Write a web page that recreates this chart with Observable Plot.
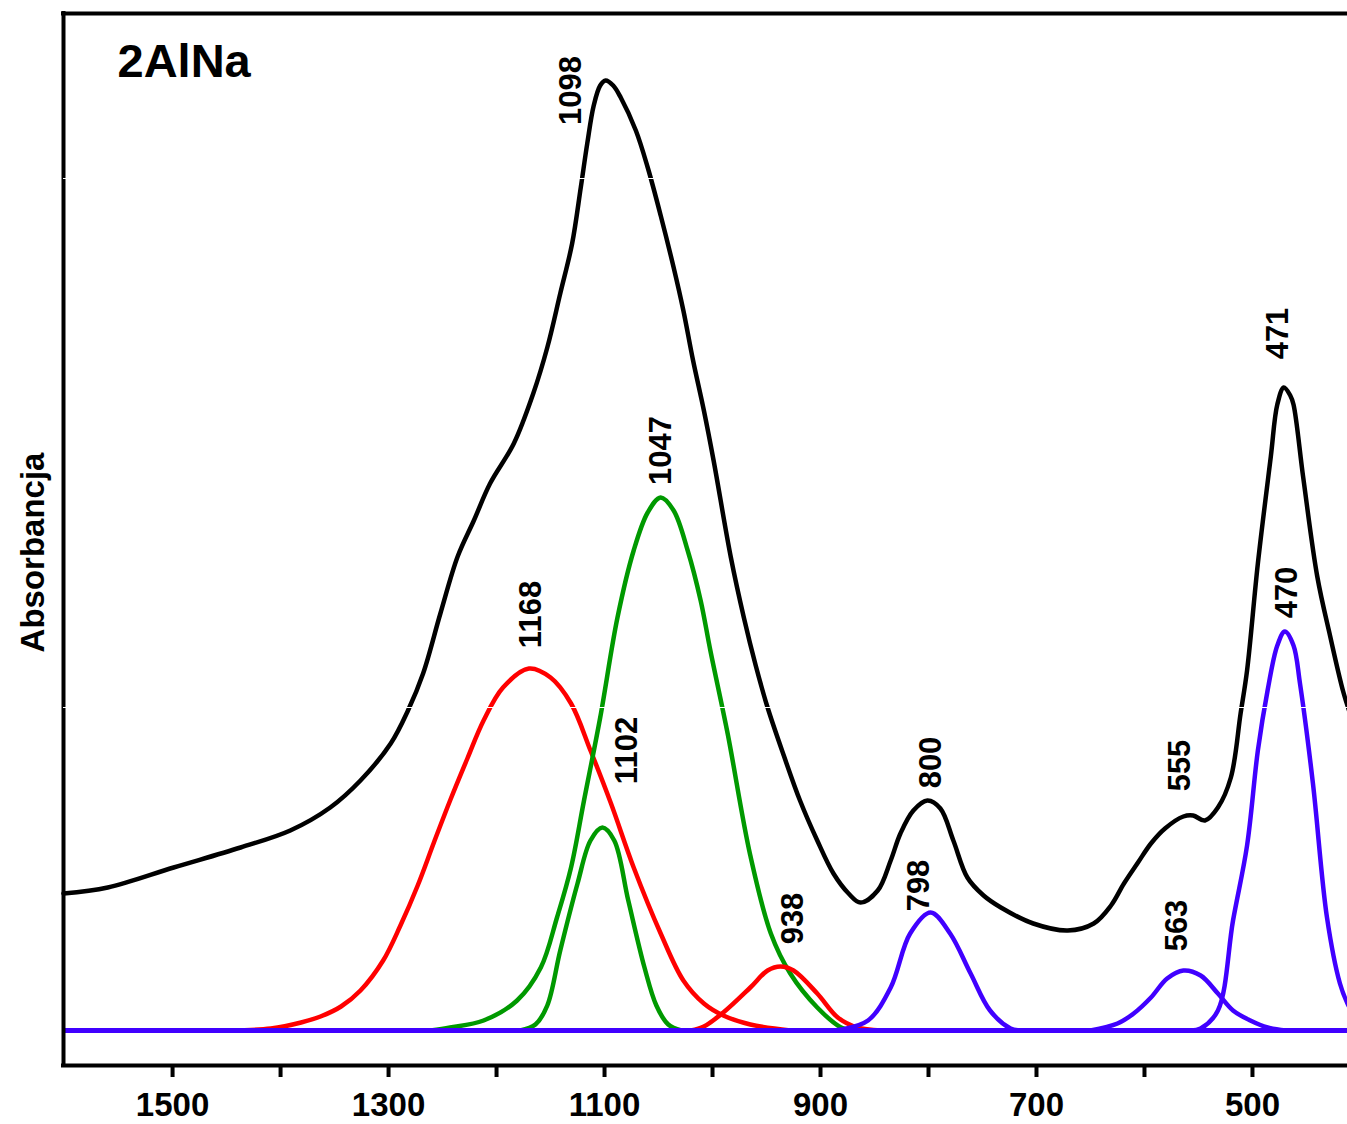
<!DOCTYPE html>
<html>
<head>
<meta charset="utf-8">
<script src="https://cdn.jsdelivr.net/npm/d3@7"></script>
<script src="https://cdn.jsdelivr.net/npm/@observablehq/plot@0.6"></script>
<style>
  html, body { margin: 0; padding: 0; background: #fff; }
  #chart svg { display: block; }
</style>
</head>
<body>
<div id="chart"></div>
<script>
// ---- data (wavenumber cm-1, absorbance in arbitrary units) ----
const title = "2AlNa";
const yTitle = "Absorbancja";
const xTicks = [1500, 1400, 1300, 1200, 1100, 1000, 900, 800, 700, 600, 500];
const xTickLabels = [1500, 1300, 1100, 900, 700, 500];
const hiddenYTicks = [0.852, 0.323];

const spectrum = [
  [1601,0.137],[1560,0.143],[1499,0.163],[1437,0.183],[1391,0.200],[1354,0.223],
  [1326,0.250],[1298,0.287],[1282,0.320],[1268,0.357],[1252,0.417],[1236,0.474],
  [1221,0.510],[1206,0.547],[1184,0.587],[1166,0.637],[1153,0.683],[1141,0.737],
  [1130,0.787],[1122,0.843],[1116,0.887],[1110,0.925],[1104,0.945],[1099,0.950],[1092,0.945],[1085,0.933],
  [1071,0.900],[1060,0.863],[1048,0.815],[1036,0.763],[1027,0.720],[1018,0.670],
  [1008,0.620],[999,0.570],[983,0.473],[971,0.413],[960,0.365],[949,0.323],
  [934,0.275],[919,0.230],[903,0.190],[888,0.157],[874,0.137],[863,0.128],
  [847,0.140],[835,0.170],[826,0.197],[814,0.220],[801,0.230],[789,0.222],
  [777,0.190],[764,0.153],[749,0.135],[733,0.123],[703,0.107],[671,0.100],
  [647,0.107],[631,0.125],[619,0.147],[606,0.168],[594,0.187],[581,0.202],
  [564,0.214],[555,0.215],[544,0.210],[532,0.223],[520,0.253],[511,0.317],
  [505,0.360],[495,0.467],[483,0.574],[477,0.626],[471,0.643],[465,0.635],[462,0.626],
  [453,0.553],[440,0.454],[428,0.394],[416,0.339],[409,0.315]
];
const band1168 = [
  [1446,0],[1409,0.002],[1381,0.008],[1363,0.014],[1344,0.024],[1326,0.040],
  [1305,0.070],[1289,0.105],[1273,0.145],[1258,0.188],[1243,0.230],[1227,0.272],
  [1212,0.310],[1194,0.343],[1170,0.362],[1150,0.353],
  [1131,0.327],[1113,0.280],[1094,0.227],[1073,0.163],[1048,0.097],[1027,0.050],
  [1008,0.027],[990,0.015],[965,0.006],[928,0]
];
const band938 = [
  [1020,0],[1008,0.004],[990,0.018],[965,0.043],[949,0.060],[937,0.064],
  [925,0.060],[903,0.037],[884,0.013],[866,0.003],[844,0]
];
const band1047 = [
  [1261,0],[1243,0.003],[1212,0.010],[1181,0.030],[1159,0.063],[1144,0.113],
  [1131,0.163],[1119,0.230],[1104,0.313],[1088,0.413],[1073,0.480],[1060,0.518],
  [1048,0.533],[1036,0.520],[1023,0.480],[1011,0.430],[1002,0.380],[986,0.297],
  [965,0.175],[946,0.097],[928,0.057],[903,0.023],[881,0.003],[872,0]
];
const band1102 = [
  [1178,0],[1164,0.006],[1153,0.025],[1141,0.080],[1125,0.147],[1113,0.190],
  [1102,0.203],[1091,0.190],[1078,0.130],[1063,0.063],[1052,0.025],[1041,0.006],[1029,0]
];
const band798 = [
  [891,0],[881,0.001],[856,0.010],[835,0.043],[817,0.097],[798,0.118],
  [780,0.097],[761,0.057],[743,0.020],[724,0.002],[715,0]
];
const band563 = [
  [650,0],[625,0.007],[610,0.017],[594,0.033],[579,0.052],[564,0.060],
  [548,0.055],[532,0.037],[518,0.020],[502,0.010],[486,0.003],[469,0]
];
const band470 = [
  [557,0],[548,0.002],[532,0.020],[518,0.110],[505,0.185],[495,0.280],
  [486,0.340],[477,0.385],[470,0.399],[462,0.385],[456,0.347],[444,0.247],
  [431,0.113],[419,0.047],[412,0.027],[400,0.005]
];
const peakLabels = [
  {text: "1098", wn: 1131, a: 0.940},
  {text: "1047", wn: 1048, a: 0.580},
  {text: "1168", wn: 1168, a: 0.416},
  {text: "1102", wn: 1079, a: 0.280},
  {text: "938",  wn: 925,  a: 0.112},
  {text: "800",  wn: 798,  a: 0.268},
  {text: "798",  wn: 809,  a: 0.145},
  {text: "555",  wn: 567,  a: 0.265},
  {text: "563",  wn: 570,  a: 0.105},
  {text: "471",  wn: 476,  a: 0.697},
  {text: "470",  wn: 468,  a: 0.438}
];

// ---- build tables ----
const toRows = arr => arr.map(([wn, a]) => ({wn, a}));
const xDomain = [1601, 412];
const yDomain = [-0.035, 1.017];
const RED = "#ff0000", GREEN = "#009900", BLUE = "#4000ff";
const FONT = "'Liberation Sans', Arial, Helvetica, sans-serif";

const lineOpts = (stroke, w) => ({x: "wn", y: "a", stroke, strokeWidth: w, curve: "catmull-rom", strokeLinejoin: "round", strokeLinecap: "round"});

const chart = Plot.plot({
  width: 1347,
  height: 1124,
  marginLeft: 63,
  marginRight: 0,
  marginTop: 13,
  marginBottom: 59,
  x: {domain: xDomain, label: null},
  y: {domain: yDomain, axis: null, label: null},
  style: {fontFamily: FONT, fontWeight: "bold", background: "white", color: "black"},
  marks: [
    Plot.line(toRows(spectrum), lineOpts("black", 4.5)),
    Plot.line(toRows(band1168), lineOpts(RED, 4.5)),
    Plot.line(toRows(band1047), lineOpts(GREEN, 4.5)),
    Plot.line(toRows(band1102), lineOpts(GREEN, 4.5)),
    Plot.line(toRows(band938), lineOpts(RED, 4.5)),
    Plot.line(toRows(band798), lineOpts(BLUE, 4.5)),
    Plot.line(toRows(band563), lineOpts(BLUE, 4.5)),
    Plot.line(toRows(band470), lineOpts(BLUE, 4.5)),
    Plot.ruleY([0], {stroke: BLUE, strokeWidth: 5}),
    // frame lines: left, bottom, top
    Plot.ruleX([xDomain[0]], {stroke: "black", strokeWidth: 4, strokeLinecap: "square"}),
    Plot.ruleY([yDomain[0]], {stroke: "black", strokeWidth: 4, strokeLinecap: "square"}),
    Plot.ruleY([yDomain[1]], {stroke: "black", strokeWidth: 4, strokeLinecap: "square"}),
    Plot.ruleY(hiddenYTicks, {stroke: "white", strokeWidth: 1}),
    Plot.axisX(xTicks, {
      tickSize: 12, strokeWidth: 4, tickPadding: 15,
      fontSize: 33, fontWeight: "bold",
      tickFormat: d => xTickLabels.includes(d) ? String(d) : "",
      label: null
    }),
    Plot.text(peakLabels, {x: "wn", y: "a", text: "text", rotate: -90, textAnchor: "middle", fontSize: 31, fontWeight: "bold", fill: "black"}),
    Plot.text([title], {frameAnchor: "top-left", dx: 54, dy: 30, lineAnchor: "top", textAnchor: "start", fontSize: 47, fontWeight: "bold", fill: "black"}),
    Plot.text([yTitle], {frameAnchor: "left", dx: -30, dy: 13, rotate: -90, textAnchor: "middle", fontSize: 33, fontWeight: "bold", fill: "black"})
  ]
});
document.getElementById("chart").appendChild(chart);
</script>
</body>
</html>
